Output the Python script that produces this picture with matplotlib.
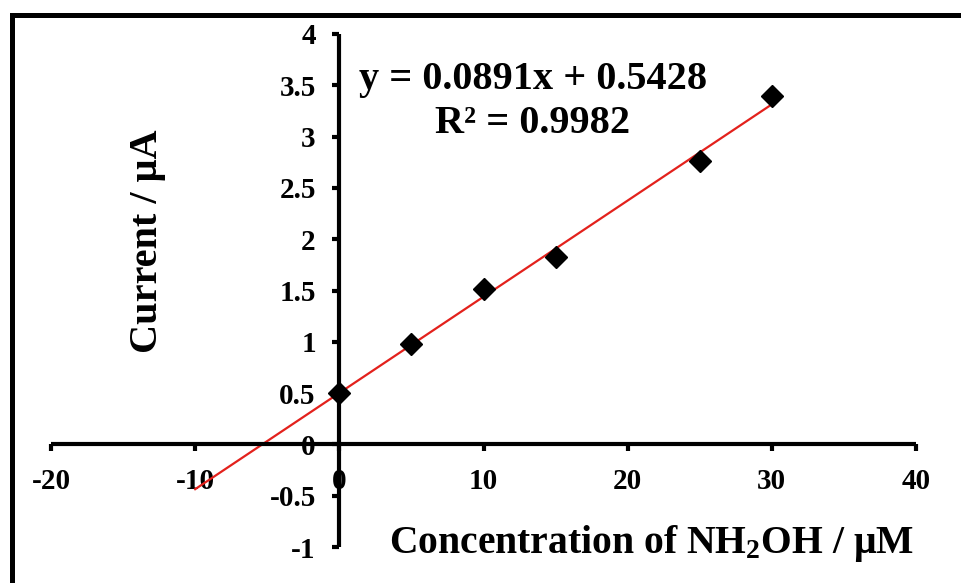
import matplotlib
matplotlib.use('Agg')
import matplotlib.pyplot as plt
import numpy as np
from matplotlib.patches import Rectangle

conc = [0, 5, 10, 15, 25, 30]
current = [0.50, 0.98, 1.51, 1.83, 2.76, 3.40]
fit_x = [-10, 30]
equation = 'y = 0.0891x + 0.5428\nR² = 0.9982'
xticks = [-20, -10, 0, 10, 20, 30, 40]
yticks = [-1, -0.5, 0, 0.5, 1, 1.5, 2, 2.5, 3, 3.5, 4]

plt.rcParams['font.family'] = 'Liberation Serif'
plt.rcParams['font.weight'] = 'bold'
plt.rcParams['mathtext.fontset'] = 'custom'
plt.rcParams['mathtext.rm'] = 'Liberation Serif:bold'
plt.rcParams['mathtext.bf'] = 'Liberation Serif:bold'
plt.rcParams['mathtext.it'] = 'Liberation Serif:bold:italic'

fig = plt.figure(figsize=(9.61, 5.83), dpi=100)
ax = fig.add_axes([0.0531, 0.0617, 0.9001, 0.88])

# outer frame, cut off on the right and bottom
fig.patches.append(Rectangle((12 / 961, -0.2), 1.5, 1.2 - 15 / 583,
                             transform=fig.transFigure, fill=False,
                             edgecolor='black', linewidth=3.6))

# linear trendline through the points
k, b = np.polyfit(conc, current, 1)
ax.plot(fit_x, [k * x + b for x in fit_x], color='#e3211c', linewidth=1.6, zorder=2)
ax.plot(conc, current, linestyle='none', marker='D', markersize=11.5,
        color='black', zorder=3, clip_on=False)

ax.set_xlim(-20, 40)
ax.set_ylim(-1, 4)
ax.set_xticks(xticks)
ax.set_yticks(yticks)
ax.set_xticklabels([str(t) for t in xticks])
ax.set_yticklabels([('%g' % t) for t in yticks])

ax.spines['left'].set_position(('data', 0))
ax.spines['bottom'].set_position(('data', 0))
ax.spines['right'].set_visible(False)
ax.spines['top'].set_visible(False)
for s in ['left', 'bottom']:
    ax.spines[s].set_linewidth(3)
    ax.spines[s].set_capstyle('butt')
ax.tick_params(axis='both', direction='out', length=5, width=3, labelsize=21, pad=12)

fig.text(148 / 961, 1 - 241 / 583, 'Current / μA', rotation=90, ha='center', va='center',
         fontsize=29, fontweight='bold')
fig.text(651 / 961, 1 - 543 / 583, 'Concentration of NH$_2$OH / μM', ha='center', va='center',
         fontsize=28.5, fontweight='bold')
fig.text(533 / 961, 1 - 102 / 583, equation, ha='center', va='center',
         multialignment='center', fontsize=29, fontweight='bold', linespacing=1.25)

fig.savefig('out.png', dpi=100)
